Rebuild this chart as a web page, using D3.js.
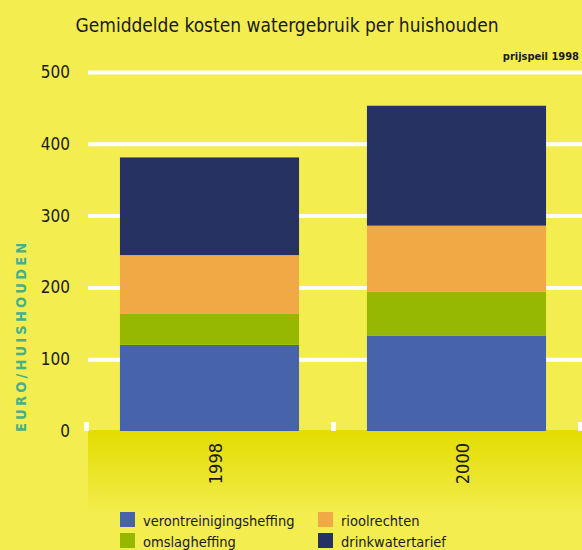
<!DOCTYPE html>
<html>
<head>
<meta charset="utf-8">
<script src="https://cdn.jsdelivr.net/npm/d3@7"></script>
<style>
  body { margin: 0; background: #f3ed4f; }
  svg { display: block; font-family: "DejaVu Sans Condensed", "Liberation Sans Narrow", sans-serif; }
</style>
</head>
<body>
<svg id="chart" width="582" height="550"></svg>
<script>
const years = ['1998', '2000']
const series = ['verontreinigingsheffing', 'omslagheffing', 'rioolrechten', 'drinkwatertarief']
const verontreiniging = [120, 133]
const omslag = [43, 61]
const riool = [82, 92]
const drinkwater = [136, 167]
const yTicks = [0, 100, 200, 300, 400, 500]

const colors = ['#4764ab', '#97b800', '#f1a946', '#253262']

const rows = years.map((yr, i) => ({
  year: yr,
  verontreinigingsheffing: verontreiniging[i],
  omslagheffing: omslag[i],
  rioolrechten: riool[i],
  drinkwatertarief: drinkwater[i]
}))

const svg = d3.select('#chart')
const margin = {top: 72, right: 2, bottom: 119, left: 86}
const width = 582, height = 550

// gradient for the band under the axis
const defs = svg.append('defs')
const grad = defs.append('linearGradient').attr('id', 'band').attr('x1', 0).attr('y1', 0).attr('x2', 0).attr('y2', 1)
grad.append('stop').attr('offset', '0%').attr('stop-color', '#e2dc00')
grad.append('stop').attr('offset', '100%').attr('stop-color', '#f3ed4f')

const x = d3.scaleBand()
  .domain(years)
  .range([margin.left, width - margin.right])
  .paddingInner(0.275)
  .paddingOuter(0.1375)

const y = d3.scaleLinear()
  .domain([0, 500])
  .range([height - margin.bottom, margin.top])

// title
svg.append('text')
  .attr('x', 287).attr('y', 32)
  .attr('text-anchor', 'middle')
  .attr('font-size', 19)
  .attr('fill', '#1a1a1a')
  .text('Gemiddelde kosten watergebruik per huishouden')

svg.append('text')
  .attr('x', 579).attr('y', 60)
  .attr('text-anchor', 'end')
  .attr('font-size', 11)
  .attr('font-weight', 'bold')
  .attr('fill', '#1a1a1a')
  .text('prijspeil 1998')

// band below the baseline
svg.append('rect')
  .attr('x', margin.left + 2)
  .attr('y', y(0) - 1)
  .attr('width', width - margin.left - 2)
  .attr('height', 85)
  .attr('fill', 'url(#band)')

// y axis with white gridlines
const yAxis = svg.append('g')
  .attr('transform', 'translate(' + (margin.left + 2) + ',0)')
  .call(d3.axisLeft(y).tickValues(yTicks).tickSize(-(width - margin.left - 2)).tickPadding(18))
yAxis.select('.domain').remove()
yAxis.selectAll('.tick line')
  .attr('stroke', '#fff')
  .attr('stroke-width', 4)
  .attr('display', d => d === 0 ? 'none' : null)
yAxis.selectAll('.tick text')
  .attr('font-size', 17)
  .attr('fill', '#1a1a1a')
  .attr('font-family', '"DejaVu Sans Condensed", sans-serif')

// small white ticks at band edges on the baseline
const edges = d3.range(years.length + 1).map(i => margin.left + i * x.step())
svg.append('g')
  .selectAll('rect')
  .data(edges)
  .join('rect')
    .attr('x', d => d - 2)
    .attr('y', y(0) - 9)
    .attr('width', 5)
    .attr('height', 9)
    .attr('fill', '#fff')

// stacked bars
const stack = d3.stack().keys(series)(rows)
svg.append('g')
  .selectAll('g')
  .data(stack)
  .join('g')
    .attr('fill', (d, i) => colors[i])
  .selectAll('rect')
  .data(d => d)
  .join('rect')
    .attr('x', d => x(d.data.year))
    .attr('y', d => y(d[1]))
    .attr('height', d => y(d[0]) - y(d[1]))
    .attr('width', x.bandwidth())

// category labels, rotated
svg.append('g')
  .selectAll('text')
  .data(years)
  .join('text')
    .attr('transform', d => 'translate(' + (x(d) + x.bandwidth() / 2 + 12) + ',' + (y(0) + 12) + ') rotate(-90)')
    .attr('text-anchor', 'end')
    .attr('font-size', 18)
    .attr('fill', '#1a1a1a')
    .text(d => d)

// y axis title
svg.append('text')
  .attr('transform', 'translate(26,432) rotate(-90)')
  .attr('font-size', 14.5)
  .attr('font-weight', 'bold')
  .attr('letter-spacing', 3.2)
  .attr('fill', '#45b08a')
  .text('EURO/HUISHOUDEN')

// legend
const legend = svg.append('g')
const legendPos = [[120, 512], [120, 533], [318, 512], [318, 533]]
series.forEach((s, i) => {
  const g = legend.append('g').attr('transform', 'translate(' + legendPos[i][0] + ',' + legendPos[i][1] + ')')
  g.append('rect').attr('width', 15).attr('height', 15).attr('fill', colors[i])
  g.append('text')
    .attr('x', 23).attr('y', 14)
    .attr('font-size', 14.5)
    .attr('fill', '#1a1a1a')
    .text(s)
})
</script>
</body>
</html>
